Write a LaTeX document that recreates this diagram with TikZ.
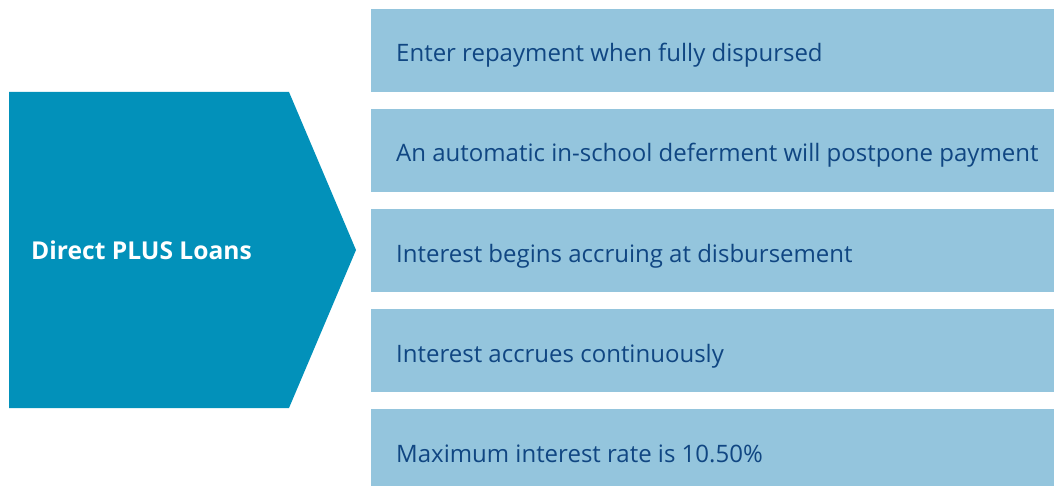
\documentclass[tikz,border=0pt]{standalone}
\usepackage{fontspec}
\setmainfont{Open Sans}
\usetikzlibrary{positioning}
\definecolor{PlusTeal}{RGB}{2,145,186}
\definecolor{PlusLight}{RGB}{148,197,221}
\definecolor{PlusText}{RGB}{16,70,130}

\begin{document}
\begin{tikzpicture}[
    x=1pt, y=-1pt,
    itembox/.style={rectangle, fill=PlusLight, anchor=north west, minimum width=683pt, minimum height=83pt, inner sep=0pt},
    itemtext/.style={anchor=base west, inner sep=0pt, text=PlusText, font=\fontsize{24}{28}\selectfont},
    headtext/.style={anchor=base west, inner sep=0pt, text=white, font=\fontsize{24.6}{29}\selectfont\bfseries}
]
    \useasboundingbox (0,0) rectangle (1054,486);
    % Left chevron
    \fill[PlusTeal] (9,92) -- (289,92) -- (356,250) -- (289,408) -- (9,408) -- cycle;
    \node[headtext] (plus) at (31,259) {Direct PLUS Loans};
    % Right column of items
    \node[itembox] (enter) at (371,9) {};
    \node[itembox] (defer) at (371,109) {};
    \node[itembox] (begin) at (371,209) {};
    \node[itembox] (accrue) at (371,309) {};
    \node[itembox, minimum height=77pt] (rate) at (371,409) {};
    % Item texts, baseline 53pt below each box top
    \node[itemtext] (entertxt) at ([xshift=25pt, yshift=-53pt]enter.north west) {Enter repayment when fully dispursed};
    \node[itemtext] (defertxt) at ([xshift=25pt, yshift=-53pt]defer.north west) {An automatic in-school deferment will postpone payment};
    \node[itemtext] (begintxt) at ([xshift=25pt, yshift=-53pt]begin.north west) {Interest begins accruing at disbursement};
    \node[itemtext] (accruetxt) at ([xshift=25pt, yshift=-53pt]accrue.north west) {Interest accrues continuously};
    \node[itemtext] (ratetxt) at ([xshift=25pt, yshift=-53pt]rate.north west) {Maximum interest rate is 10.50\%};
\end{tikzpicture}
\end{document}
